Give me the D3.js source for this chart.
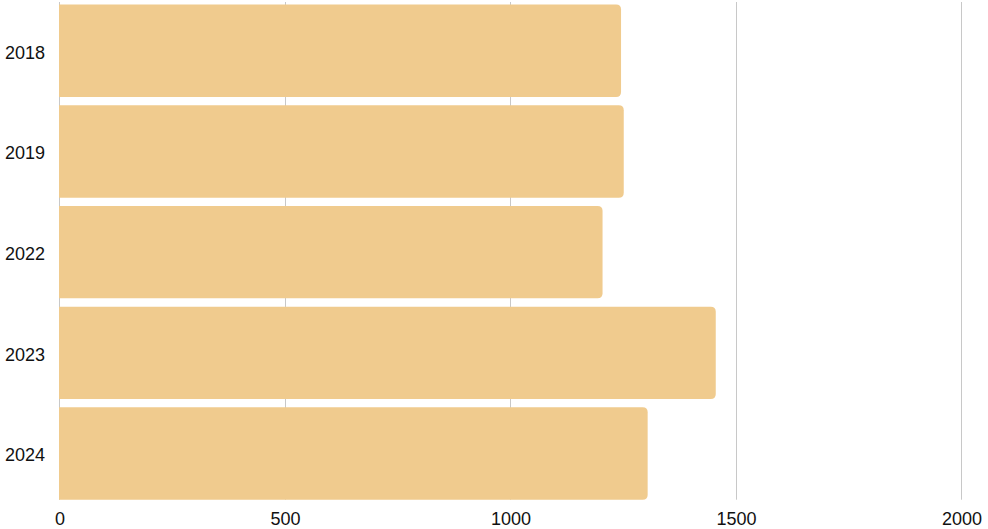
<!DOCTYPE html>
<html>
<head>
<meta charset="utf-8">
<script src="https://cdn.jsdelivr.net/npm/d3@7"></script>
<style>
  body { margin: 0; background: #fff; }
  svg text { font-family: "Liberation Sans", Arial, sans-serif; fill: #111; }
</style>
</head>
<body>
<div id="chart"></div>
<script>
// Data
const years = ["2018", "2019", "2022", "2023", "2024"];
const values = [1244, 1250, 1203, 1454, 1303];
const xTicks = [0, 500, 1000, 1500, 2000];

const width = 988, height = 529;
const plotLeft = 60, plotRight = 962, plotTop = 4.6, plotBottom = 499.7;

const svg = d3.select("#chart")
    .append("svg")
    .attr("width", width)
    .attr("height", height);

const x = d3.scaleLinear()
    .domain([0, 2000])
    .range([plotLeft, plotRight]);

const y = d3.scaleBand()
    .domain(years)
    .range([plotTop, plotBottom])
    .paddingInner(0.083)
    .paddingOuter(0);

// Gridlines
svg.append("g")
    .selectAll("line")
    .data(xTicks)
    .enter()
    .append("line")
    .attr("x1", d => Math.round(x(d)) - 0.5)
    .attr("x2", d => Math.round(x(d)) - 0.5)
    .attr("y1", 2)
    .attr("y2", plotBottom)
    .attr("stroke", "#c8c8c8")
    .attr("stroke-width", 1);

// Bars, rounded on the right end only
const r = 5;
svg.append("g")
    .selectAll("path")
    .data(years.map((d, i) => ({year: d, value: values[i]})))
    .enter()
    .append("path")
    .attr("fill", "#f0cb8e")
    .attr("d", d => {
        const x0 = x(0) - 1, x1 = x(d.value);
        const y0 = y(d.year), y1 = y0 + y.bandwidth();
        return `M${x0},${y0}H${x1 - r}Q${x1},${y0} ${x1},${y0 + r}` +
               `V${y1 - r}Q${x1},${y1} ${x1 - r},${y1}H${x0}Z`;
    });

// Y labels
svg.append("g")
    .selectAll("text")
    .data(years)
    .enter()
    .append("text")
    .attr("x", 45)
    .attr("y", d => y(d) + y.bandwidth() / 2 + 1.5)
    .attr("dy", "0.35em")
    .attr("text-anchor", "end")
    .style("font-size", "18px")
    .text(d => d);

// X labels
svg.append("g")
    .selectAll("text")
    .data(xTicks)
    .enter()
    .append("text")
    .attr("x", d => x(d))
    .attr("y", 519)
    .attr("dy", "0.35em")
    .attr("text-anchor", "middle")
    .style("font-size", "18px")
    .text(d => d);
</script>
</body>
</html>
